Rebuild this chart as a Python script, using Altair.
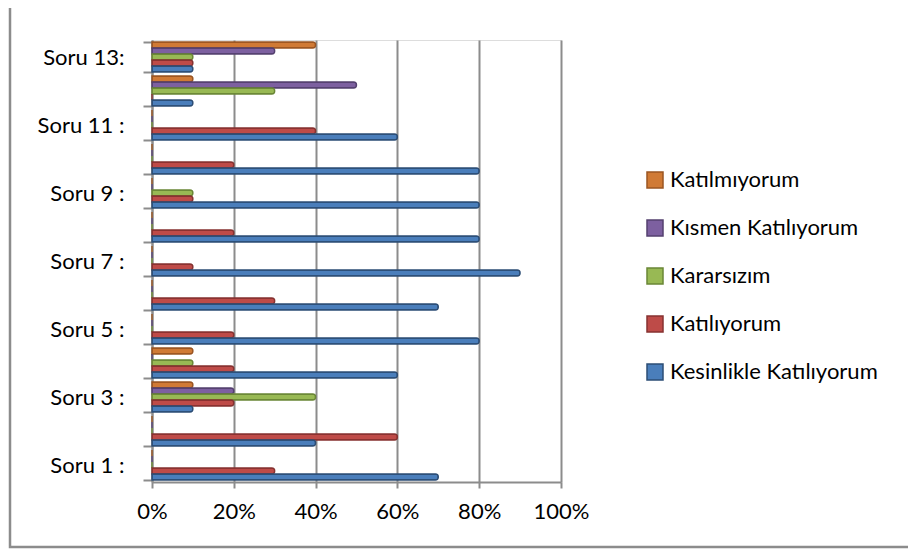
import altair as alt
import pandas as pd

questions = list(range(1, 14))
tick_labels = ["", "Soru 1 :", "", "Soru 3 :", "", "Soru 5 :", "", "Soru 7 :", "",
               "Soru 9 :", "", "Soru 11 :", "", "Soru 13:"]

series = ["Katılmıyorum", "Kısmen Katılıyorum", "Kararsızım", "Katılıyorum",
          "Kesinlikle Katılıyorum"]

kesinlikle = [70, 40, 10, 60, 80, 70, 90, 80, 80, 80, 60, 10, 10]
katiliyorum = [30, 60, 20, 20, 20, 30, 10, 20, 10, 20, 40, 0, 10]
kararsizim = [0, 0, 40, 10, 0, 0, 0, 0, 10, 0, 0, 30, 10]
kismen = [0, 0, 20, 0, 0, 0, 0, 0, 0, 0, 0, 50, 30]
katilmiyorum = [0, 0, 10, 10, 0, 0, 0, 0, 0, 0, 0, 10, 40]

fills = ["#D07A35", "#7D60A0", "#98B954", "#BE4B48", "#4A7EBB"]
strokes = ["#9A5522", "#54406F", "#6A8636", "#863230", "#2C4D75"]

values = {
    "Katılmıyorum": katilmiyorum,
    "Kısmen Katılıyorum": kismen,
    "Kararsızım": kararsizim,
    "Katılıyorum": katiliyorum,
    "Kesinlikle Katılıyorum": kesinlikle,
}

rows = []
for s in series:
    for q, v in zip(questions, values[s]):
        rows.append({"soru": q, "seri": s, "deger": v / 100})
df = pd.DataFrame(rows)

FONT = "Lato"
label_expr = "[" + ",".join("'" + t + "'" for t in tick_labels) + "][datum.value]"

legend = alt.Legend(
    title=None, orient="none", legendX=492, legendY=129,
    labelFont=FONT, labelFontSize=22, labelColor="#000000",
    symbolType="square", symbolSize=256, symbolStrokeWidth=1.5,
    rowPadding=26, labelOffset=4, padding=0, labelLimit=400,
)

bars = alt.Chart(df).mark_bar(strokeWidth=1.4, cornerRadiusEnd=3).encode(
    x=alt.X("deger:Q", scale=alt.Scale(domain=[0, 1], nice=False),
            axis=alt.Axis(values=[0, 0.2, 0.4, 0.6, 0.8, 1.0], format=".0%",
                          title=None, grid=True, gridColor="#8C8C8C", gridWidth=2,
                          domainColor="#8C8C8C", domainWidth=2,
                          tickColor="#8C8C8C", tickWidth=2, tickSize=6,
                          labelFont=FONT, labelFontSize=22, labelColor="#000000",
                          labelPadding=13, labelFlush=False, labelOverlap=False)),
    y=alt.Y("soru:O", sort="descending",
            scale=alt.Scale(paddingInner=0.12, paddingOuter=0.06),
            axis=alt.Axis(title=None, labelExpr=label_expr, tickBand="extent",
                          domainColor="#8C8C8C", domainWidth=2,
                          tickColor="#8C8C8C", tickWidth=2, tickSize=9,
                          labelFont=FONT, labelFontSize=22, labelColor="#000000",
                          labelPadding=19, grid=False)),
    yOffset=alt.YOffset("seri:N", sort=series,
                        scale=alt.Scale(domain=series, paddingInner=0.0)),
    color=alt.Color("seri:N", scale=alt.Scale(domain=series, range=fills),
                    legend=legend),
    stroke=alt.Stroke("seri:N", scale=alt.Scale(domain=series, range=strokes),
                      legend=legend),
)

frame = alt.Chart(pd.DataFrame({"a": [0]})).mark_rect(
    fill=None, stroke="#8C8C8C", strokeWidth=2.5, clip=False
).encode(
    x=alt.value(-142), x2=alt.value(900), y=alt.value(-60), y2=alt.value(507)
)

chart = alt.layer(frame, bars).properties(
    width=409, height=442,
    padding={"left": 144, "top": 32, "right": 347, "bottom": 68},
    autosize=alt.AutoSizeParams(type="none"),
).configure_view(
    fill="#E6E6E6", stroke=None
).configure(background="#FFFFFF")

chart.save("out.html", embed_options={"renderer": "svg", "actions": False})
